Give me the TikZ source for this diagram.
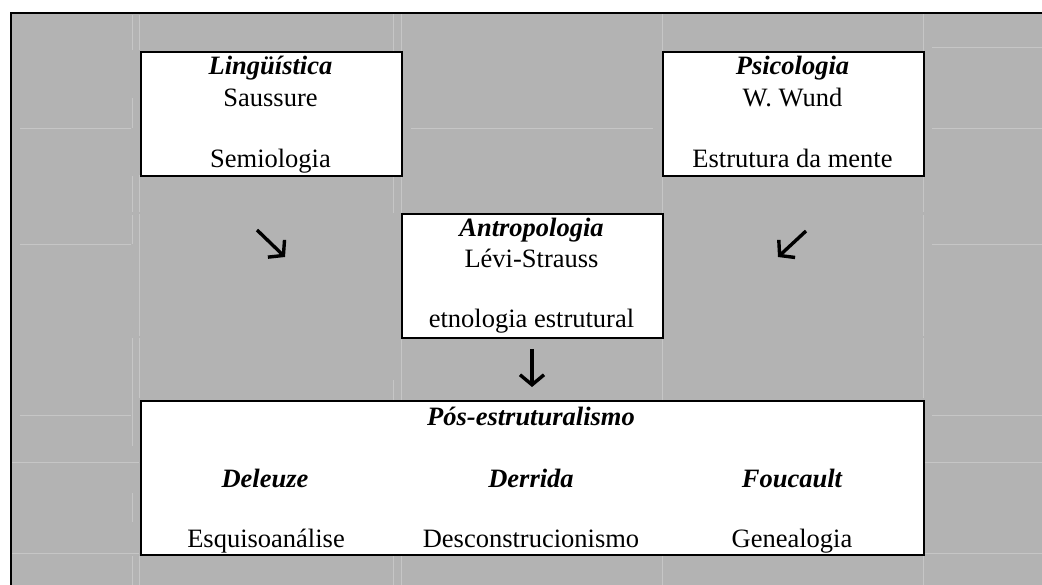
\documentclass[tikz,border=0pt]{standalone}
\usepackage{fontspec}
\setmainfont{Liberation Serif}
\usetikzlibrary{arrows.meta}
\definecolor{bgray}{RGB}{179,179,179}
\definecolor{gridc}{RGB}{198,198,198}
\begin{document}
\begin{tikzpicture}[x=1pt,y=-1pt,
  box/.style={draw=black,line width=2pt,fill=white,anchor=north west,inner sep=0pt},
  txt/.style={anchor=base,inner sep=0pt,font=\fontsize{26.5}{30}\selectfont},
  hd/.style={anchor=base,inner sep=0pt,font=\fontsize{26.5}{30}\selectfont\bfseries\itshape},
  glin/.style={draw=gridc,line width=0.8pt},
  flow/.style={line width=3.4pt,-{Straight Barb[length=10pt,width=24pt]}}]
\useasboundingbox (0,0) rectangle (1042,585);
\clip (0,0) rectangle (1042,585);
% background table area
\fill[bgray] (10,13) rectangle (1050,590);
% faint table grid
\foreach \a/\b in {15/50,98/128,176/212,215/244,338/446,493/522,556/585}
  \draw[glin] (132,\a) -- (132,\b);
\foreach \a/\b in {15/50,175/212,214/336,338/398,556/585}
  \draw[glin] (139,\a) -- (139,\b);
\foreach \a/\b in {13/213,380/400,554/585}
  \draw[glin] (393,\a) -- (393,\b);
\foreach \a/\b in {13/51,175/213,337/400,554/585}
  {\draw[glin] (401,\a) -- (401,\b); \draw[glin] (662,\a) -- (662,\b);}
\foreach \a/\b in {13/51,175/212,215/336,338/398,556/585}
  \draw[glin] (923,\a) -- (923,\b);
\draw[glin] (932,47) -- (1042,47);
\foreach \y in {128,244,415}
  {\draw[glin] (20,\y) -- (131,\y); \draw[glin] (932,\y) -- (1042,\y);}
\draw[glin] (411,128) -- (653,128);
\foreach \y in {462,553}
  {\draw[glin] (10,\y) -- (139,\y); \draw[glin] (924,\y) -- (1042,\y);}
% outer border
\draw[line width=2.4pt] (11,590) -- (11,13.2) -- (1050,13.2);
% boxes
\node[box,minimum width=261pt,minimum height=124pt] (ling) at (140,51) {};
\node[box,minimum width=261pt,minimum height=124pt] (psic) at (662,51) {};
\node[box,minimum width=261pt,minimum height=124pt] (antr) at (401,213) {};
\node[box,minimum width=783pt,minimum height=154pt] (pos) at (140,400) {};
% texts
\node[hd]  (l1) at (270.5,75) {Lingüística};
\node[txt] (l2) at (270.5,107) {Saussure};
\node[txt] (l3) at (270.5,168) {Semiologia};
\node[hd]  (p1) at (792.5,75) {Psicologia};
\node[txt] (p2) at (792.5,107) {W. Wund};
\node[txt] (p3) at (792.5,168) {Estrutura da mente};
\node[hd]  (a1) at (531.5,237) {Antropologia};
\node[txt] (a2) at (531.5,268) {Lévi-Strauss};
\node[txt] (a3) at (531.5,328) {etnologia estrutural};
\node[hd]  (q0) at (531,425) {Pós-estruturalismo};
\node[hd]  (q1) at (265,487) {Deleuze};
\node[hd]  (q2) at (531,487) {Derrida};
\node[hd]  (q3) at (792,487) {Foucault};
\node[txt] (q4) at (266,547) {Esquisoanálise};
\node[txt] (q5) at (531,547) {Desconstrucionismo};
\node[txt] (q6) at (792,547) {Genealogia};
% arrows
\coordinate (s1) at (257,230); \coordinate (e1) at (285,257);
\coordinate (s2) at (806,231); \coordinate (e2) at (778,257);
\coordinate (s3) at (532,349); \coordinate (e3) at (532,387);
\draw[flow] (s1) -- (e1);
\draw[flow] (s2) -- (e2);
\draw[flow] (s3) -- (e3);
\end{tikzpicture}
\end{document}
